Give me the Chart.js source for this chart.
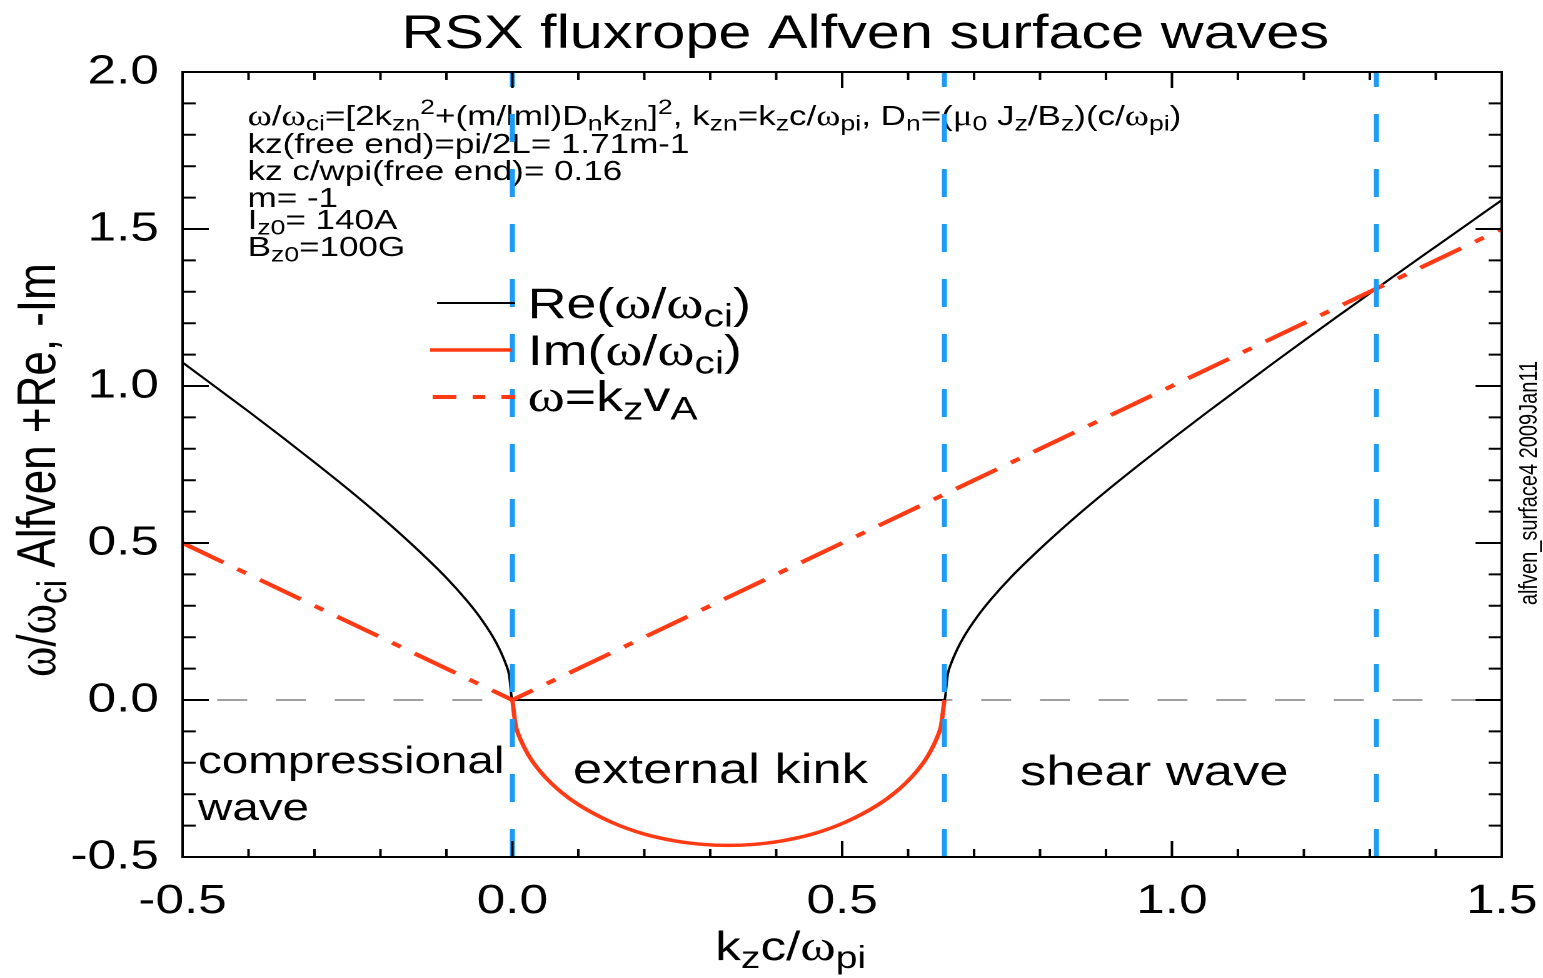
<!DOCTYPE html>
<html lang="en">
<head>
<meta charset="UTF-8">
<title>RSX fluxrope Alfven surface waves</title>
<script src="https://cdn.jsdelivr.net/npm/chart.js"></script>
<style>
    html, body { margin: 0; padding: 0; background: #fff; overflow: hidden; }
    /* IDL fonts come out wide: draw narrow, stretch the whole picture */
    #wrap { width: 1234px; height: 978px; transform: scaleX(1.2504); transform-origin: 0 0; }
</style>
</head>
<body>
<div id="wrap"><canvas id="myChart" width="1234" height="978"></canvas></div>

<script>
    // ---- data ----
    // Re(w/wci): left branch, flat part between the roots, right branch
    const reK = [-0.5, -0.45, -0.4, -0.35, -0.3, -0.25, -0.2, -0.15, -0.1, -0.07, -0.05, -0.03, -0.02, -0.01, -0.005, 0,
        0.655, 0.66, 0.665, 0.675, 0.685, 0.705, 0.725, 0.755, 0.805, 0.855, 0.905, 0.955, 1.005, 1.055, 1.105, 1.155,
        1.2, 1.25, 1.3, 1.35, 1.4, 1.45, 1.5];
    const reW = [1.075, 0.997, 0.919, 0.839, 0.757, 0.673, 0.585, 0.491, 0.389, 0.319, 0.266, 0.203, 0.164, 0.115, 0.081, 0,
        0, 0.081, 0.115, 0.164, 0.203, 0.266, 0.319, 0.389, 0.491, 0.585, 0.673, 0.757, 0.839, 0.919, 0.997, 1.075,
        1.144, 1.220, 1.295, 1.370, 1.444, 1.518, 1.592];

    // Im(w/wci), only between the two roots
    const imK = [0, 0.005, 0.01, 0.02, 0.03, 0.05, 0.075, 0.1, 0.15, 0.2, 0.25, 0.29, 0.3275, 0.365, 0.405, 0.455, 0.505,
        0.555, 0.58, 0.605, 0.625, 0.635, 0.645, 0.65, 0.655];
    const imW = [0, -0.081, -0.114, -0.159, -0.194, -0.246, -0.295, -0.333, -0.389, -0.427, -0.450, -0.460, -0.463, -0.460,
        -0.450, -0.427, -0.389, -0.333, -0.295, -0.246, -0.194, -0.159, -0.114, -0.081, 0];

    // w = kz vA
    const alfK = [-0.5, 0, 1.5];
    const alfW = [0.5, 0, 1.5];

    // blue dashed markers
    const boundaryK = [0, 0.655, 1.31];

    const xTickVals = [-0.5, 0, 0.5, 1.0, 1.5];
    const xTickLabels = ['-0.5', '0.0', '0.5', '1.0', '1.5'];
    const yTickVals = [-0.5, 0, 0.5, 1.0, 1.5, 2.0];
    const yTickLabels = ['-0.5', '0.0', '0.5', '1.0', '1.5', '2.0'];

    // ---- styles ----
    const SANS = '"Liberation Sans", Arial, Helvetica, sans-serif';
    const SERIF = '"Liberation Serif", "DejaVu Serif", serif';
    const RED = '#ff3a14';
    const BLUE = '#1c9cf6';
    const ALF_DASH = [38, 13, 8, 13];

    const pts = (xs, ys) => xs.map((x, i) => ({ x: x, y: ys[i] }));

    // rich text: [text, flags]  b=subscript p=superscript g=greek(serif)
    function partFont(flags, size) {
        const small = flags.includes('b') || flags.includes('p');
        const fs = small ? size * 0.76 : (flags.includes('g') ? size * 1.05 : size);
        const fam = flags.includes('g') ? SERIF : SANS;
        const dy = flags.includes('b') ? size * 0.2 : (flags.includes('p') ? -size * 0.4 : 0);
        return { font: fs.toFixed(1) + 'px ' + fam, dy: dy };
    }
    function richWidth(ctx, parts, size) {
        let w = 0;
        for (const [t, f] of parts) { ctx.font = partFont(f, size).font; w += ctx.measureText(t).width; }
        return w;
    }
    function drawRich(ctx, x, y, parts, size, align) {
        let cx = align === 'center' ? x - richWidth(ctx, parts, size) / 2 : x;
        ctx.textAlign = 'left';
        ctx.textBaseline = 'alphabetic';
        for (const [t, f] of parts) {
            const pf = partFont(f, size);
            ctx.font = pf.font;
            ctx.fillText(t, cx, y + pf.dy);
            cx += ctx.measureText(t).width;
        }
    }

    const infoLines = [
        [['ω', 'g'], ['/', ''], ['ω', 'g'], ['ci', 'b'], ['=[2k', ''], ['zn', 'b'], ['2', 'p'], ['+(m/lml)D', ''], ['n', 'b'],
            ['k', ''], ['zn', 'b'], [']', ''], ['2', 'p'], [', k', ''], ['zn', 'b'], ['=k', ''], ['z', 'b'], ['c/', ''],
            ['ω', 'g'], ['pi', 'b'], [', D', ''], ['n', 'b'], ['=(', ''], ['μ', 'g'], ['0', 'b'], [' J', ''], ['z', 'b'],
            ['/B', ''], ['z', 'b'], [')(c/', ''], ['ω', 'g'], ['pi', 'b'], [')', '']],
        [['kz(free end)=pi/2L= 1.71m-1', '']],
        [['kz c/wpi(free end)= 0.16', '']],
        [['m= -1', '']],
        [['I', ''], ['z0', 'b'], ['= 140A', '']],
        [['B', ''], ['z0', 'b'], ['=100G', '']]
    ];
    const infoBase = [125, 153, 180, 207, 229, 256];

    const legendRows = [
        { parts: [['Re(', ''], ['ω', 'g'], ['/', ''], ['ω', 'g'], ['ci', 'b'], [')', '']], x0: 349.5, x1: 412, y: 303, color: '#000', width: 2, dash: [] },
        { parts: [['Im(', ''], ['ω', 'g'], ['/', ''], ['ω', 'g'], ['ci', 'b'], [')', '']], x0: 344, x1: 409.5, y: 350, color: RED, width: 3.5, dash: [] },
        { parts: [['ω', 'g'], ['=k', ''], ['z', 'b'], ['v', ''], ['A', 'b']], x0: 346, x1: 412, y: 397, color: RED, width: 4, dash: [19, 13, 10, 13] }
    ];
    const legendBase = [318, 365, 411];

    const framePlugin = {
        id: 'frame',
        beforeDatasetsDraw(chart) {
            const ctx = chart.ctx;
            ctx.save();
            ctx.fillStyle = '#000';

            ctx.font = '47.5px ' + SANS;
            ctx.textAlign = 'center';
            ctx.textBaseline = 'alphabetic';
            ctx.fillText('RSX fluxrope Alfven surface waves', 692, 48);

            infoLines.forEach((parts, i) => drawRich(ctx, 198, infoBase[i], parts, 28));

            drawRich(ctx, 158.4, 773, [['compressional', '']], 38);
            drawRich(ctx, 158.4, 820, [['wave', '']], 38);
            drawRich(ctx, 458.3, 783, [['external kink', '']], 42);
            drawRich(ctx, 815.7, 785, [['shear wave', '']], 42);
            ctx.restore();
        },
        afterDatasetsDraw(chart) {
            const ctx = chart.ctx;
            const a = chart.chartArea;
            const xs = chart.scales.x, ys = chart.scales.y;
            ctx.save();

            // box and inward ticks on all four sides
            ctx.strokeStyle = '#000';
            ctx.lineWidth = 2;
            ctx.setLineDash([]);
            ctx.strokeRect(a.left, a.top, a.right - a.left, a.bottom - a.top);
            ctx.beginPath();
            for (let i = 0; i <= 20; i++) {
                const px = xs.getPixelForValue(-0.5 + i * 0.1);
                const len = i % 5 === 0 ? 16 : 8;
                ctx.moveTo(px, a.bottom); ctx.lineTo(px, a.bottom - len);
                ctx.moveTo(px, a.top); ctx.lineTo(px, a.top + len);
            }
            for (let i = 0; i <= 25; i++) {
                const py = ys.getPixelForValue(-0.5 + i * 0.1);
                const len = i % 5 === 0 ? 21 : 10.5;
                ctx.moveTo(a.left, py); ctx.lineTo(a.left + len, py);
                ctx.moveTo(a.right, py); ctx.lineTo(a.right - len, py);
            }
            ctx.stroke();

            // legend
            legendRows.forEach((r, i) => {
                ctx.strokeStyle = r.color;
                ctx.lineWidth = r.width;
                ctx.setLineDash(r.dash);
                ctx.beginPath();
                ctx.moveTo(r.x0, r.y); ctx.lineTo(r.x1, r.y);
                ctx.stroke();
                ctx.fillStyle = '#000';
                drawRich(ctx, 422, legendBase[i], r.parts, 43);
            });
            ctx.setLineDash([]);

            // axis titles
            ctx.fillStyle = '#000';
            drawRich(ctx, 572, 960, [['k', ''], ['z', 'b'], ['c/', ''], ['ω', 'g'], ['pi', 'b']], 41);

            ctx.save();
            ctx.translate(44, 677);
            ctx.rotate(-Math.PI / 2);
            drawRich(ctx, 0, 0, [['ω', 'g'], ['/', ''], ['ω', 'g'], ['ci', 'b'], [' Alfven +Re, -Im', '']], 44);
            ctx.restore();

            ctx.save();
            ctx.translate(1229, 483);
            ctx.rotate(-Math.PI / 2);
            ctx.font = '20px ' + SANS;
            ctx.textAlign = 'center';
            ctx.textBaseline = 'alphabetic';
            ctx.fillText('alfven_surface4 2009Jan11', 0, 0);
            ctx.restore();

            ctx.restore();
        }
    };

    const yLo = yTickVals[0], yHi = yTickVals[yTickVals.length - 1];
    const xLo = xTickVals[0], xHi = xTickVals[xTickVals.length - 1];

    const datasets = [
        {
            label: 'zero', data: [{ x: xLo, y: 0 }, { x: xHi, y: 0 }],
            borderColor: '#808080', borderWidth: 1.5, borderDash: [24, 23], borderDashOffset: 19.3, order: 5
        },
        {
            label: 'Re', data: pts(reK, reW), borderColor: '#000', borderWidth: 2,
            cubicInterpolationMode: 'monotone', order: 4
        },
        {
            label: 'Im', data: pts(imK, imW), borderColor: RED, borderWidth: 3.5,
            cubicInterpolationMode: 'monotone', order: 3
        },
        {
            label: 'kzvA', data: pts(alfK, alfW), borderColor: RED, borderWidth: 4,
            borderDash: ALF_DASH, order: 2
        }
    ];
    boundaryK.forEach((k, i) => {
        datasets.push({
            label: 'edge' + i, data: [{ x: k, y: yLo }, { x: k, y: yHi }],
            borderColor: BLUE, borderWidth: 4, borderDash: [28, 27], order: 1
        });
    });
    datasets.forEach(d => { d.pointRadius = 0; d.fill = false; d.borderCapStyle = 'butt'; });

    const ctx = document.getElementById('myChart');
    new Chart(ctx, {
        type: 'line',
        data: { datasets: datasets },
        options: {
            responsive: false,
            devicePixelRatio: 2,
            animation: false,
            layout: { padding: { top: 72, right: 33, left: 0, bottom: 0 } },
            plugins: {
                legend: { display: false },
                tooltip: { enabled: false },
                title: { display: false }
            },
            scales: {
                x: {
                    type: 'linear', min: xLo, max: xHi,
                    grid: { display: false, drawTicks: false },
                    border: { display: false },
                    afterBuildTicks: (s) => { s.ticks = xTickVals.map(v => ({ value: v })); },
                    ticks: {
                        padding: 20, color: '#000', maxRotation: 0, autoSkip: false,
                        font: { family: SANS, size: 41 },
                        callback: (v, i) => xTickLabels[i]
                    },
                    afterFit: (s) => { s.height = 121; s.paddingLeft = 0; s.paddingRight = 0; }
                },
                y: {
                    type: 'linear', min: yLo, max: yHi,
                    grid: { display: false, drawTicks: false },
                    border: { display: false },
                    afterBuildTicks: (s) => { s.ticks = yTickVals.map(v => ({ value: v })); },
                    ticks: {
                        padding: 19, color: '#000', autoSkip: false,
                        font: { family: SANS, size: 41 },
                        callback: (v, i) => yTickLabels[i]
                    },
                    afterFit: (s) => { s.width = 146; s.paddingTop = 0; s.paddingBottom = 0; }
                }
            }
        },
        plugins: [framePlugin]
    });
</script>
</body>
</html>
